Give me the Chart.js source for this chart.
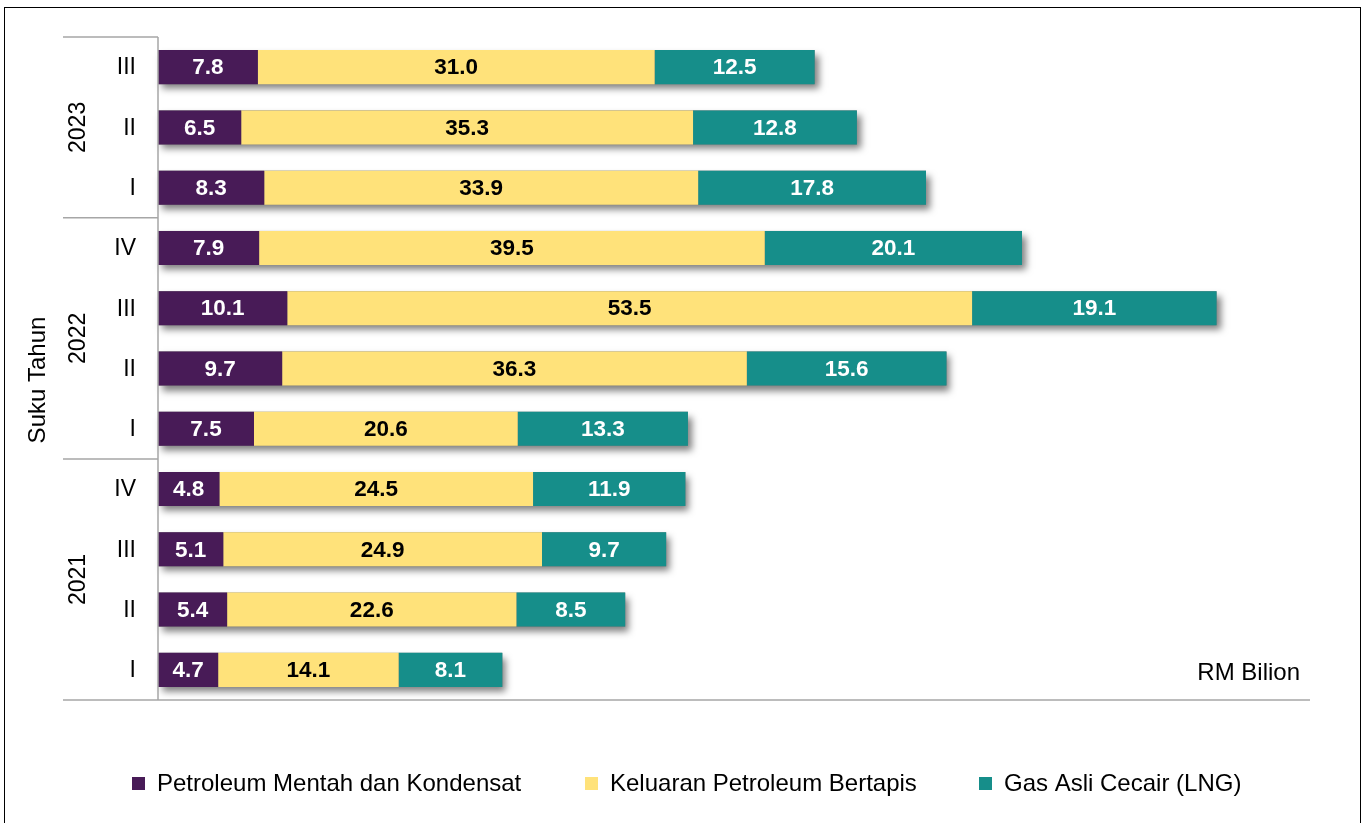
<!DOCTYPE html>
<html>
<head>
<meta charset="utf-8">
<script src="https://cdn.jsdelivr.net/npm/chart.js@4.4.0/dist/chart.umd.min.js"></script>
<style>
  html, body { margin: 0; padding: 0; background: #fff; }
  #wrap { position: relative; width: 1368px; height: 823px; overflow: hidden; }
  #frame { position: absolute; left: 4px; top: 7px; width: 1355px; height: 840px; border: 1.5px solid #000; pointer-events: none; }
  canvas { position: absolute; left: 0; top: 0; }
</style>
</head>
<body>
<div id="wrap">
  <canvas id="chart" width="1368" height="823"></canvas>
  <div id="frame"></div>
</div>
<script>
// chronological order, drawn bottom (2021 I) to top (2023 III)
const years = ["2021", "2021", "2021", "2021", "2022", "2022", "2022", "2022", "2023", "2023", "2023"];
const quarters = ["I", "II", "III", "IV", "I", "II", "III", "IV", "I", "II", "III"];

const seriesNames = ["Petroleum Mentah dan Kondensat", "Keluaran Petroleum Bertapis", "Gas Asli Cecair (LNG)"];
const crudeOil = [4.7, 5.4, 5.1, 4.8, 7.5, 9.7, 10.1, 7.9, 8.3, 6.5, 7.8];
const refined = [14.1, 22.6, 24.9, 24.5, 20.6, 36.3, 53.5, 39.5, 33.9, 35.3, 31.0];
const lng = [8.1, 8.5, 9.7, 11.9, 13.3, 15.6, 19.1, 20.1, 17.8, 12.8, 12.5];

const colors = ["#481b57", "#ffe27a", "#168e8a"];
const labelColors = ["#ffffff", "#000000", "#ffffff"];
const FONT = '"Liberation Sans", Arial, sans-serif';
const AXIS_GREY = "#a6a6a6";

// shadows behind each full stacked bar
const shadowPlugin = {
  id: "barShadow",
  beforeDatasetsDraw(chart) {
    const ctx = chart.ctx;
    const first = chart.getDatasetMeta(0).data;
    const last = chart.getDatasetMeta(2).data;
    ctx.save();
    ctx.shadowColor = "rgba(0,0,0,0.5)";
    ctx.shadowBlur = 7;
    ctx.shadowOffsetX = 4;
    ctx.shadowOffsetY = 5;
    ctx.fillStyle = "#777";
    first.forEach((el, i) => {
      const top = el.y - el.height / 2;
      ctx.fillRect(el.base, top, last[i].x - el.base, el.height);
    });
    ctx.restore();
  }
};

const decoPlugin = {
  id: "deco",
  afterDatasetsDraw(chart) {
    const ctx = chart.ctx;
    const area = chart.chartArea;
    const yScale = chart.scales.y;
    const half = (yScale.getPixelForValue(0) - yScale.getPixelForValue(1)) / 2;

    // values inside the segments
    ctx.save();
    ctx.font = "bold 22.5px " + FONT;
    ctx.textAlign = "center";
    ctx.textBaseline = "middle";
    chart.data.datasets.forEach((ds, d) => {
      chart.getDatasetMeta(d).data.forEach((el, i) => {
        ctx.fillStyle = labelColors[d];
        ctx.fillText(ds.data[i].toFixed(1), (el.x + el.base) / 2, el.y + 1);
      });
    });
    ctx.restore();

    // axis lines
    ctx.save();
    ctx.strokeStyle = AXIS_GREY;
    ctx.lineWidth = 1.5;
    ctx.beginPath();
    ctx.moveTo(area.left, area.top);
    ctx.lineTo(area.left, area.bottom);
    ctx.moveTo(63, area.bottom);
    ctx.lineTo(area.right, area.bottom);
    ctx.moveTo(63, area.top);
    ctx.lineTo(area.left, area.top);
    for (let i = 1; i < years.length; i++) {
      if (years[i] !== years[i - 1]) {
        const yb = yScale.getPixelForValue(i) + half;
        ctx.moveTo(63, yb);
        ctx.lineTo(area.left, yb);
      }
    }
    ctx.stroke();
    ctx.restore();

    // quarter labels
    ctx.save();
    ctx.fillStyle = "#000";
    ctx.font = "23px " + FONT;
    ctx.textAlign = "right";
    ctx.textBaseline = "middle";
    quarters.forEach((q, i) => ctx.fillText(q, 136, yScale.getPixelForValue(i) + 1));

    // year labels, rotated
    ctx.textAlign = "center";
    let start = 0;
    for (let i = 1; i <= years.length; i++) {
      if (i === years.length || years[i] !== years[start]) {
        const yc = (yScale.getPixelForValue(start) + yScale.getPixelForValue(i - 1)) / 2;
        ctx.save();
        ctx.translate(78, yc);
        ctx.rotate(-Math.PI / 2);
        ctx.fillText(years[start], 0, 1);
        ctx.restore();
        start = i;
      }
    }

    // axis title
    ctx.save();
    ctx.font = "24px " + FONT;
    ctx.translate(38, 380);
    ctx.rotate(-Math.PI / 2);
    ctx.fillText("Suku Tahun", 0, 0);
    ctx.restore();

    // unit
    ctx.font = "24px " + FONT;
    ctx.textAlign = "right";
    ctx.fillText("RM Bilion", 1300, 673);

    // legend
    const legendX = [132, 585, 979];
    ctx.textAlign = "left";
    seriesNames.forEach((name, d) => {
      ctx.fillStyle = colors[d];
      ctx.fillRect(legendX[d], 777, 13, 13);
      ctx.fillStyle = "#000";
      ctx.fillText(name, legendX[d] + 25, 784);
    });
    ctx.restore();
  }
};

new Chart(document.getElementById("chart"), {
  type: "bar",
  data: {
    labels: quarters,
    datasets: [crudeOil, refined, lng].map((vals, d) => ({
      label: seriesNames[d],
      data: vals,
      backgroundColor: colors[d],
      borderWidth: 0,
      barPercentage: 0.565,
      categoryPercentage: 1
    }))
  },
  options: {
    indexAxis: "y",
    responsive: false,
    animation: false,
    layout: { padding: { left: 158, right: 58, top: 37, bottom: 123 } },
    scales: {
      x: { stacked: true, min: 0, max: 90, display: false },
      y: { stacked: true, reverse: true, display: false }
    },
    plugins: {
      legend: { display: false },
      tooltip: { enabled: false }
    }
  },
  plugins: [shadowPlugin, decoPlugin]
});
</script>
</body>
</html>
